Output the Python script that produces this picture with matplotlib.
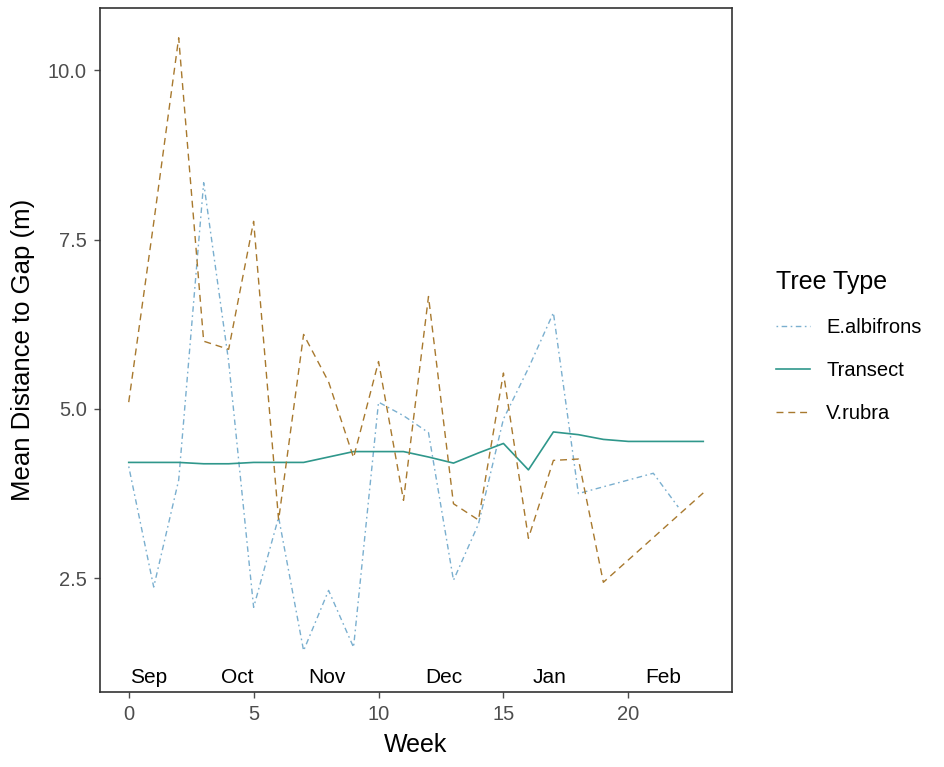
import matplotlib
matplotlib.use("Agg")
import matplotlib.pyplot as plt
from matplotlib.lines import Line2D

plt.rcParams['font.family'] = ['Liberation Sans', 'DejaVu Sans']

# ---- data ----
weeks_albifrons = list(range(0, 23))
albifrons = [4.15, 2.37, 3.95, 8.34, 5.7, 2.07, 3.4, 1.43, 2.32, 1.48, 5.1, 4.9,
             4.65, 2.47, 3.3, 4.85, 5.6, 6.42, 3.75, 3.85, 3.95, 4.05, 3.55]

weeks_transect = list(range(0, 24))
transect = [4.21, 4.21, 4.21, 4.19, 4.19, 4.21, 4.21, 4.21, 4.29, 4.37, 4.37, 4.37,
            4.29, 4.2, 4.35, 4.49, 4.1, 4.66, 4.62, 4.55, 4.52, 4.52, 4.52, 4.52]

weeks_rubra = list(range(0, 20)) + [23]
rubra = [5.1, 7.75, 10.48, 6.0, 5.88, 7.77, 3.36, 6.1, 5.4, 4.28, 5.7, 3.65,
         6.66, 3.6, 3.36, 5.53, 3.09, 4.24, 4.26, 2.44, 3.76]

month_labels = ['Sep', 'Oct', 'Nov', 'Dec', 'Jan', 'Feb']
month_pos = [0.8, 4.35, 7.95, 12.6, 16.85, 21.4]
month_y = 1.04

series_names = ['E.albifrons', 'Transect', 'V.rubra']
colors = {'E.albifrons': '#7AAFCF', 'Transect': '#2F978B', 'V.rubra': '#A8792E'}
styles = {'E.albifrons': (0, (1.2, 2.5, 4, 2.5)),
          'Transect': '-',
          'V.rubra': (0, (5, 3.5))}

W, H = 944, 767
fig = plt.figure(figsize=(W / 100, H / 100), dpi=100)
ax = fig.add_axes([100 / W, 1 - 692 / H, (732 - 100) / W, (692 - 8) / H])

lw = 1.0
ax.plot(weeks_albifrons, albifrons, color=colors['E.albifrons'],
        linestyle=styles['E.albifrons'], linewidth=lw)
ax.plot(weeks_transect, transect, color=colors['Transect'],
        linestyle=styles['Transect'], linewidth=1.2)
ax.plot(weeks_rubra, rubra, color=colors['V.rubra'],
        linestyle=styles['V.rubra'], linewidth=lw)

for lab, xp in zip(month_labels, month_pos):
    ax.text(xp, month_y, lab, ha='center', va='center', fontsize=15, color='black')

ax.set_xlim(-1.15, 24.15)
ax.set_ylim(0.82, 10.92)
ax.set_xticks([0, 5, 10, 15, 20])
ax.set_yticks([2.5, 5.0, 7.5, 10.0])
ax.set_yticklabels(['2.5', '5.0', '7.5', '10.0'])
ax.tick_params(axis='both', colors='#4D4D4D', labelsize=14.5, length=4.5,
               width=1.0, direction='out', pad=5)
for sp in ax.spines.values():
    sp.set_color('#333333')
    sp.set_linewidth(1.2)

ax.set_xlabel('Week', fontsize=18, labelpad=6)
ax.set_ylabel('Mean Distance to Gap (m)', fontsize=18.5, labelpad=9)

handles = [Line2D([0], [0], color=colors[n], linestyle=styles[n],
                  linewidth=(1.2 if n == 'Transect' else lw)) for n in series_names]
leg = fig.legend(handles, series_names, loc='upper left',
                 bbox_to_anchor=(776 / W, 1 - 270 / H), frameon=False,
                 borderpad=0, borderaxespad=0,
                 title='Tree Type', title_fontsize=18, fontsize=14.5,
                 labelspacing=1.19, handlelength=1.7, handletextpad=0.8,
                 alignment='left')

fig.savefig('out.png', dpi=100)
